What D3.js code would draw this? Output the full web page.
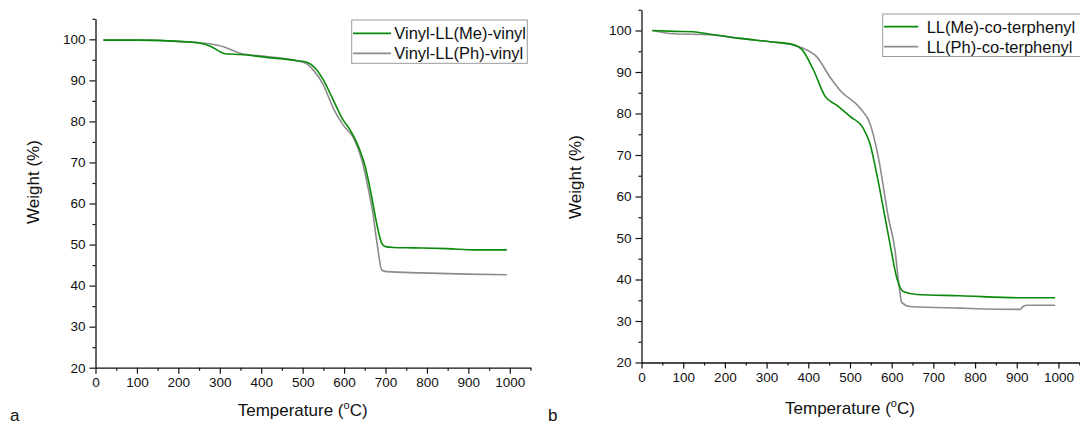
<!DOCTYPE html>
<html><head><meta charset="utf-8">
<script src="https://cdn.jsdelivr.net/npm/d3@7/dist/d3.min.js"></script>
<style>
html,body{margin:0;padding:0;background:#fff;}
svg{display:block;font-family:"Liberation Sans",Arial,sans-serif;}
</style></head>
<body>
<svg id="c" width="1080" height="425"></svg>
<script>
// ---- data ----
const xTicks = [0,100,200,300,400,500,600,700,800,900,1000];
const yTicks = [20,30,40,50,60,70,80,90,100];

const aMeT = [19,100,200,250,280,300,312,350,413,486,510,530,550,574,598,615,635,651,665,679,691,700,720,767,848,920,993];
const aMeW = [99.8,99.8,99.5,99.1,98.2,97.0,96.5,96.3,95.6,94.8,94.4,93.0,90.1,85.2,80.3,77.9,73.8,69.0,62.5,55.0,50.3,49.5,49.3,49.2,49.0,48.7,48.7];
const aPhT = [19,100,200,268,309,349,413,486,510,526,550,574,598,623,643,659,669,680,691,703,784,897,993];
const aPhW = [99.8,99.8,99.5,99.0,98.2,96.6,95.8,94.8,94.0,92.5,88.9,83.2,79.1,75.9,70.6,63.3,58.0,50.0,43.8,43.4,43.1,42.8,42.65];

const bMeT = [26,80,124,164,236,308,364,384,412,440,468,500,532,548,564,584,596,612,628,660,764,908,992];
const bMeW = [100,99.8,99.7,99.1,98.1,97.3,96.6,95.5,90.6,84.2,82.0,79.3,76.4,72.7,65.5,55.0,48.6,40.5,37.1,36.4,36.1,35.6,35.6];
const bPhT = [26,76,164,236,308,364,388,420,452,476,524,548,568,592,608,618,624,644,764,908,915,925,992];
const bPhW = [100,99.2,99.0,98.1,97.3,96.5,95.7,93.7,88.8,85.6,81.3,77.6,69.5,55.0,47.1,38.2,34.5,33.5,33.1,32.8,33.5,33.8,33.8];

const aNames = ["Vinyl-LL(Me)-vinyl","Vinyl-LL(Ph)-vinyl"];
const bNames = ["LL(Me)-co-terphenyl","LL(Ph)-co-terphenyl"];
const panelLetters = ["a","b"];
const colors = ["#0a8a0a","#8c8c8c"];

const zip = (T,W) => T.map((t,i)=>({t, w:W[i]}));

const panels = [
  {letter: panelLetters[0], names: aNames, series:[zip(aMeT,aMeW), zip(aPhT,aPhW)],
   xr:[95.5,530.5], yr:[367.7,18.8], ytx:38.5, yty:182, xtb:416, letterXY:[10,421],
   leg:{x:351.7,y:20,w:175.6,h:43.3,lx0:353,lx1:391,tx:394.3,rows:[33.3,53.3]}},
  {letter: panelLetters[1], names: bNames, series:[zip(bMeT,bMeW), zip(bPhT,bPhW)],
   xr:[641.5,1079.3], yr:[362.5,9.75], ytx:581, yty:177, xtb:414, letterXY:[548,421],
   leg:{x:882.7,y:14,w:200,h:42.5,lx0:884,lx1:918.3,tx:926.7,rows:[26.7,46.7]}}
];

const svg = d3.select("#c");
const ink = "#111";

panels.forEach(p=>{
  const x = d3.scaleLinear().domain([0,1050]).range(p.xr);
  const y = d3.scaleLinear().domain([20,105]).range(p.yr);
  const g = svg.append("g");

  // minor ticks
  const xMinor = xTicks.map(v=>v+50);
  const yMinor = yTicks.map(v=>v+5);
  g.append("g").attr("transform",`translate(0,${p.yr[0]})`)
    .call(d3.axisBottom(x).tickValues(xMinor).tickSize(3).tickSizeOuter(0).tickFormat(""))
    .call(s=>s.select(".domain").remove());
  g.append("g").attr("transform",`translate(${p.xr[0]},0)`)
    .call(d3.axisLeft(y).tickValues(yMinor).tickSize(3).tickSizeOuter(0).tickFormat(""))
    .call(s=>s.select(".domain").remove());

  g.append("g").attr("transform",`translate(0,${p.yr[0]})`)
    .call(d3.axisBottom(x).tickValues(xTicks).tickSize(6).tickSizeOuter(0).tickPadding(4).tickFormat(d3.format("d")));
  g.append("g").attr("transform",`translate(${p.xr[0]},0)`)
    .call(d3.axisLeft(y).tickValues(yTicks).tickSize(6).tickSizeOuter(0).tickPadding(4).tickFormat(d3.format("d")));
  g.selectAll(".tick line").attr("stroke",ink).attr("stroke-width",1.2);
  g.selectAll(".domain").attr("stroke",ink).attr("stroke-width",1.3);
  g.selectAll(".tick text").attr("fill",ink).style("font-size","13.5px").style("font-family","'Liberation Sans',Arial,sans-serif");

  // curves
  const line = d3.line().x(d=>x(d.t)).y(d=>y(d.w)).curve(d3.curveMonotoneX);
  [1,0].forEach(i=>{
    g.append("path").datum(p.series[i]).attr("d",line)
      .attr("fill","none").attr("stroke",colors[i]).attr("stroke-width",1.6);
  });

  // axis titles
  const xt = g.append("text").attr("x",(x(0)+x(1000))/2).attr("y",p.xtb)
    .attr("text-anchor","middle").attr("fill",ink).style("font-size","17px");
  xt.append("tspan").text("Temperature (");
  xt.append("tspan").text("o").style("font-size","11px").attr("dy",-7);
  xt.append("tspan").text("C)").attr("dy",7);

  g.append("text").attr("transform",`translate(${p.ytx},${p.yty}) rotate(-90)`)
    .attr("text-anchor","middle").attr("fill",ink).style("font-size","17px").text("Weight (%)");

  g.append("text").attr("x",p.letterXY[0]).attr("y",p.letterXY[1])
    .attr("fill",ink).style("font-size","17px").text(p.letter);

  // legend
  const L = p.leg;
  g.append("rect").attr("x",L.x).attr("y",L.y).attr("width",L.w).attr("height",L.h)
    .attr("fill","#fff").attr("stroke","#9a9a9a").attr("stroke-width",1);
  p.names.forEach((n,i)=>{
    g.append("line").attr("x1",L.lx0).attr("x2",L.lx1).attr("y1",L.rows[i]).attr("y2",L.rows[i])
      .attr("stroke",colors[i]).attr("stroke-width",1.8);
    g.append("text").attr("x",L.tx).attr("y",L.rows[i]+5.8).attr("fill",ink)
      .style("font-size","16.5px").text(n);
  });
});
</script>
</body></html>
